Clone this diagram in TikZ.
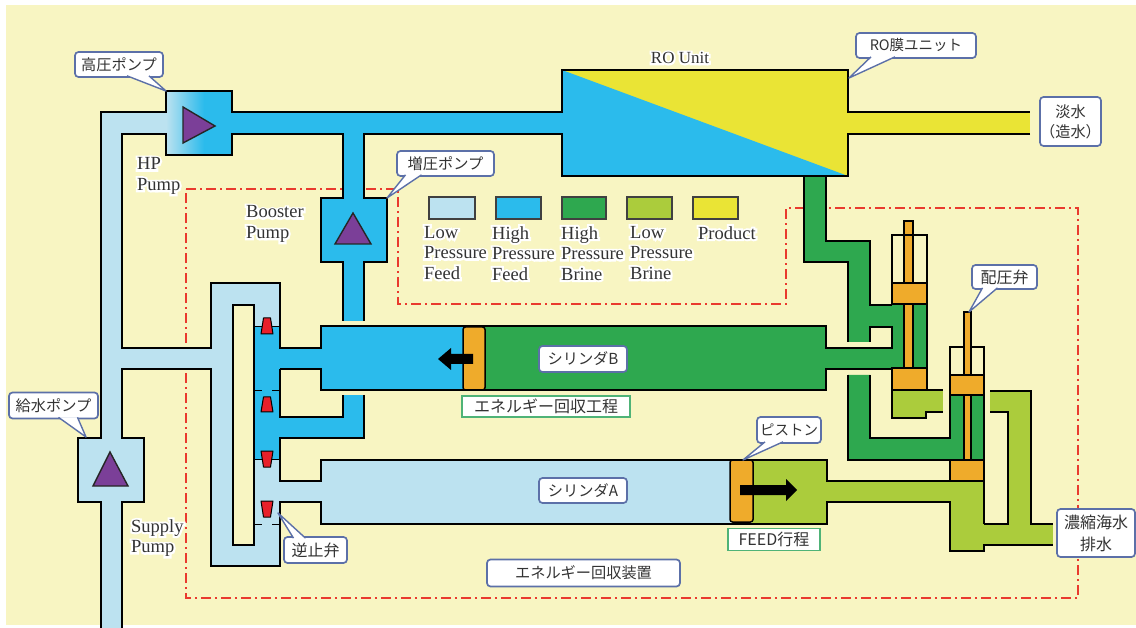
\documentclass[tikz,border=0pt]{standalone}
\usepackage{fontspec}
\setmainfont{Liberation Serif}
\newfontfamily\jpfont{Noto Sans CJK JP}
\newfontfamily\haloface[FakeBold=22]{Liberation Serif}
\newcommand{\hl}[1]{\leavevmode\rlap{\textcolor{white}{\haloface #1}}#1}
\definecolor{bgc}{HTML}{F8F5C2}
\definecolor{lowfeed}{HTML}{BCE2F0}
\definecolor{highfeed}{HTML}{2BBBEC}
\definecolor{highbrine}{HTML}{2EA84F}
\definecolor{lowbrine}{HTML}{ABCC3C}
\definecolor{product}{HTML}{EAE435}
\definecolor{spool}{HTML}{EFAB2B}
\definecolor{valvered}{HTML}{E8202A}
\definecolor{pumpv}{HTML}{7B3F98}
\definecolor{dashred}{HTML}{E93A2E}
\definecolor{calloutc}{HTML}{5C70A8}
\definecolor{stepc}{HTML}{4FB377}
\definecolor{tc}{HTML}{333333}
\tikzset{
  wall/.style={draw=black,line width=1.9pt,line join=miter},
  thinwall/.style={draw=black,line width=0.9pt},
  pumptri/.style={fill=pumpv,draw=black!85,line width=1.4pt,line join=miter},
  swatch/.style={draw=black!75,line width=1.4pt},
  spoolbox/.style={fill=spool,draw=black,line width=2pt},
  rodbox/.style={fill=spool,draw=black,line width=1.2pt},
  pistonbox/.style={fill=spool,draw=black,line width=1.5pt,rounded corners=2.5pt},
  checkv/.style={fill=valvered,draw=black,line width=1pt,line join=round},
  boundary/.style={draw=dashred,line width=1.7pt,dash pattern=on 10pt off 4pt on 2pt off 4pt},
  labeltext/.style={font=\fontsize{18.5}{20.5}\selectfont,text=tc,align=left,anchor=west,inner sep=0pt},
  cbox/.style={rectangle,rounded corners=3.5pt,draw=calloutc,line width=1.7pt,fill=white,inner sep=0pt,text=tc,font=\jpfont\fontsize{15.2}{20}\selectfont,align=center},
  bigtext/.style={font=\jpfont\fontsize{16}{22}\selectfont},
  gbox/.style={rectangle,draw=stepc,line width=1.7pt,fill=white,inner sep=0pt,text=tc,font=\jpfont\fontsize{16}{20}\selectfont},
  cptr/.style={draw=calloutc,line width=1.4pt,fill=white,line join=round},
  blockarrow/.style={fill=black,draw=none}
}
\begin{document}
\begin{tikzpicture}[x=1pt,y=-1pt]
\useasboundingbox (0,0) rectangle (1136,628);
\fill[white] (0,0) rectangle (1136,628);
\fill[bgc] (6,5) rectangle (1136,625);
% boundary
\draw[boundary] (186,189) -- (398,189) -- (398,304) -- (786,304) -- (786,208) -- (1078,208) -- (1078,598) -- (186,598) -- cycle;

% low pressure feed
\fill[lowfeed] (101,112) rectangle (122,628);
\fill[lowfeed] (101,112) rectangle (170,134);
\fill[lowfeed] (78,438) rectangle (144,502);
\fill[lowfeed] (122,348) rectangle (211,369);
\fill[lowfeed] (211,283) rectangle (280,566);
\fill[lowfeed] (280,481) rectangle (321,502);
\fill[lowfeed] (321,460) rectangle (731,524);
\fill[bgc] (233,305) rectangle (254,545);
% high pressure feed
\shade[left color=lowfeed,right color=highfeed] (166,91) rectangle (204,155);
\fill[highfeed] (204,91) rectangle (232,155);
\fill[highfeed] (232,112) rectangle (563,134);
\fill[highfeed] (343,134) rectangle (364,198);
\fill[highfeed] (321,198) rectangle (387,262);
\fill[highfeed] (343,262) rectangle (364,321);
\fill[highfeed] (321,326) rectangle (464,390);
\fill[highfeed] (254,326) rectangle (280,459);
\fill[highfeed] (280,348) rectangle (321,369);
\fill[highfeed] (280,417) rectangle (364,438);
\fill[highfeed] (343,395) rectangle (364,417);
% RO
\fill[product] (562,70) rectangle (848,176);
\fill[highfeed] (562,70) -- (848,176) -- (562,176) -- cycle;
\fill[product] (848,112) rectangle (1030,134);
% high pressure brine
\fill[highbrine] (484,326) rectangle (826,390);
\fill[highbrine] (804,176) -- (826,176) -- (826,241) -- (870,241) -- (870,305) -- (892,305) -- (892,327) -- (870,327) -- (870,342) -- (848,342) -- (848,262) -- (804,262) -- cycle;
\fill[highbrine] (892,304) rectangle (927,368);
\fill[highbrine] (826,348) rectangle (892,369);
\fill[highbrine] (848,375) -- (870,375) -- (870,438) -- (950,438) -- (950,395) -- (984,395) -- (984,460) -- (848,460) -- cycle;
% low pressure brine
\fill[lowbrine] (752,460) rectangle (827,524);
\fill[lowbrine] (827,481) rectangle (950,502);
\fill[lowbrine] (950,481) rectangle (984,551);
\fill[lowbrine] (984,524) rectangle (1053,545);
\fill[lowbrine] (990,391) rectangle (1031,412);
\fill[lowbrine] (1008,391) rectangle (1031,524);
\fill[lowbrine] (892,390) rectangle (926,418);
\fill[lowbrine] (926,391) rectangle (943,412);

% walls
\draw[wall] (101,628) -- (101,502) -- (78,502) -- (78,438) -- (101,438) -- (101,112) -- (166,112) -- (166,91) -- (232,91) -- (232,112) -- (562,112) -- (562,70) -- (848,70) -- (848,112) -- (1030,112);
\draw[wall] (1030,134) -- (848,134) -- (848,176) -- (562,176) -- (562,134) -- (364,134) -- (364,198) -- (387,198) -- (387,262) -- (364,262) -- (364,321);
\draw[wall] (343,321) -- (343,262) -- (321,262) -- (321,198) -- (343,198) -- (343,134) -- (232,134) -- (232,155) -- (166,155) -- (166,134) -- (122,134) -- (122,348) -- (211,348) -- (211,283) -- (280,283) -- (280,348) -- (321,348) -- (321,326) -- (826,326) -- (826,348) -- (892,348) -- (892,327) -- (870,327) -- (870,342);
\draw[wall] (122,628) -- (122,502) -- (144,502) -- (144,438) -- (122,438) -- (122,369) -- (211,369) -- (211,566) -- (280,566) -- (280,502) -- (321,502) -- (321,524) -- (827,524) -- (827,502) -- (950,502) -- (950,551) -- (984,551) -- (984,545) -- (1053,545);
\draw[wall] (280,369) -- (321,369) -- (321,390) -- (826,390) -- (826,369) -- (892,369) -- (892,418) -- (926,418) -- (926,412) -- (943,412);
\draw[wall] (280,369) -- (280,417) -- (343,417) -- (343,395);
\draw[wall] (364,395) -- (364,438) -- (280,438) -- (280,481) -- (321,481) -- (321,460) -- (827,460) -- (827,481) -- (950,481);
\draw[wall] (233,305) rectangle (254,545);
\draw[wall] (804,176) -- (804,262) -- (848,262) -- (848,342);
\draw[wall] (826,176) -- (826,241) -- (870,241) -- (870,305) -- (892,305);
\draw[wall] (848,375) -- (848,460) -- (950,460);
\draw[wall] (870,375) -- (870,438) -- (950,438) -- (950,395);
\draw[wall] (990,391) -- (1031,391) -- (1031,524) -- (1053,524);
\draw[wall] (990,412) -- (1008,412) -- (1008,524) -- (984,524);
\draw[wall] (927,390) -- (943,390);
% check-valve seats
\draw[thinwall] (254,326) -- (280,326);
\draw[thinwall] (254,459) -- (280,459);
\draw[thinwall] (254,390) -- (262,390) (272,390) -- (280,390);
\draw[thinwall] (254,524) -- (262,524) (272,524) -- (280,524);
\draw[checkv] (263.5,318) -- (270.5,318) -- (273,334) -- (261,334) -- cycle;
\draw[checkv] (263.5,397) -- (270.5,397) -- (273,412) -- (261,412) -- cycle;
\draw[checkv] (261,451) -- (273,451) -- (270.5,467) -- (263.5,467) -- cycle;
\draw[checkv] (261,501) -- (273,501) -- (270.5,517) -- (263.5,517) -- cycle;
% distribution valves
\draw[rodbox] (904,221) rectangle (913,283);
\draw[wall] (892,283) -- (892,235) -- (927,235) -- (927,390);
\draw[rodbox] (904,304) rectangle (913,368);
\draw[spoolbox] (892,283) rectangle (927,304);
\draw[spoolbox] (892,368) rectangle (927,390);
\draw[wall] (950,375) -- (950,347) -- (984,347) -- (984,524);
\draw[rodbox] (964,312) rectangle (971,375);
\draw[rodbox] (964,395) rectangle (971,460);
\draw[spoolbox] (950,375) rectangle (984,395);
\draw[spoolbox] (950,460) rectangle (984,481);
% pistons and arrows
\draw[pistonbox] (463,327) rectangle (485,390);
\fill[blockarrow] (473,354) -- (451,354) -- (451,348) -- (438,359) -- (451,370) -- (451,364) -- (473,364) -- cycle;
\draw[pistonbox] (730,460) rectangle (753,522);
\fill[blockarrow] (740,485) -- (786,485) -- (786,479) -- (797,490) -- (786,501) -- (786,495) -- (740,495) -- cycle;
% pumps
\draw[pumptri] (183,107) -- (215,126) -- (183,143) -- cycle;
\draw[pumptri] (353,213) -- (371,244) -- (335,244) -- cycle;
\draw[pumptri] (110,452) -- (128,486) -- (93,486) -- cycle;
% legend
\draw[swatch,fill=lowfeed] (429,197) rectangle (475,219);
\draw[swatch,fill=highfeed] (496,197) rectangle (541,219);
\draw[swatch,fill=highbrine] (562,197) rectangle (606,219);
\draw[swatch,fill=lowbrine] (627,197) rectangle (672,219);
\draw[swatch,fill=product] (693,197) rectangle (738,219);
\node[labeltext,anchor=north west] (lg1) at (424,226) {\hl{Low}\\\hl{Pressure}\\\hl{Feed}};
\node[labeltext,anchor=north west] (lg2) at (492,226) {\hl{High}\\\hl{Pressure}\\\hl{Feed}};
\node[labeltext,anchor=north west] (lg3) at (561,226) {\hl{High}\\\hl{Pressure}\\\hl{Brine}};
\node[labeltext,anchor=north west] (lg4) at (630,226) {\hl{Low}\\\hl{Pressure}\\\hl{Brine}};
\node[labeltext,anchor=north west] (lg5) at (698,226) {\hl{Product}};
% plain labels
\node[labeltext,anchor=center,font=\fontsize{17}{20}\selectfont] (rounit) at (680,58) {\hl{RO Unit}};
\node[labeltext] (hppump) at (137,176) {\hl{HP}\\\hl{Pump}};
\node[labeltext] (bstpump) at (246,224) {\hl{Booster}\\\hl{Pump}};
\node[labeltext] (suppump) at (131,538) {\hl{Supply}\\\hl{Pump}};
% boxes
\node[cbox,minimum width=61,minimum height=49] (product) at (1070.5,121.5) {淡水\\（造水）};
\node[cbox,bigtext,minimum width=78,minimum height=48] (brineout) at (1096,533) {濃縮海水\\排水};
\node[cbox,minimum width=88,minimum height=26] (cylb) at (583,359) {シリンダB};
\node[cbox,minimum width=88,minimum height=25] (cyla) at (583,490.5) {シリンダA};
\node[cbox,minimum width=193,minimum height=27] (erd) at (583.5,573) {エネルギー回収装置};
\node[gbox,minimum width=168,minimum height=21] (recov) at (546,406.5) {エネルギー回収工程};
\node[gbox,minimum width=92,minimum height=22] (feedstep) at (774,539.5) {FEED行程};
% callouts
\node[cbox,minimum width=88,minimum height=25] (hp) at (119,64.5) {高圧ポンプ};
\coordinate (tiphp) at (166,91);
\draw[cptr] ([xshift=8pt,yshift=2pt]hp.south) -- (tiphp) -- ([xshift=30pt,yshift=2pt]hp.south);
\node[cbox,minimum width=97,minimum height=25] (bst) at (445.5,163.5) {増圧ポンプ};
\coordinate (tipbst) at (387,198);
\draw[cptr] ([xshift=-40pt,yshift=2pt]bst.south) -- (tipbst) -- ([xshift=-24pt,yshift=2pt]bst.south);
\node[cbox,minimum width=89,minimum height=26] (sup) at (53.5,405.5) {給水ポンプ};
\coordinate (tipsup) at (86,437);
\draw[cptr] ([xshift=5pt,yshift=2pt]sup.south) -- (tipsup) -- ([xshift=24pt,yshift=2pt]sup.south);
\node[cbox,bigtext,minimum width=63,minimum height=26] (chk) at (315.5,550) {逆止弁};
\coordinate (tipchk) at (278,513);
\draw[cptr] ([xshift=-22pt,yshift=-2pt]chk.north) -- (tipchk) -- ([xshift=-10pt,yshift=-2pt]chk.north);
\node[cbox,bigtext,minimum width=65,minimum height=24] (dist) at (1004.5,277) {配圧弁};
\coordinate (tipdist) at (969,312);
\draw[cptr] ([xshift=-22pt,yshift=2pt]dist.south) -- (tipdist) -- ([xshift=-7pt,yshift=2pt]dist.south);
\node[cbox,font=\jpfont\fontsize{14.5}{20}\selectfont,minimum width=64,minimum height=26] (pist) at (789,430) {ピストン};
\coordinate (tippist) at (743,460);
\draw[cptr] ([xshift=-24pt,yshift=2pt]pist.south) -- (tippist) -- ([xshift=-6pt,yshift=2pt]pist.south);
\node[cbox,font=\jpfont\fontsize{14.5}{20}\selectfont,minimum width=120,minimum height=25] (rom) at (916,45.5) {RO膜ユニット};
\coordinate (tiprom) at (849,78);
\draw[cptr] ([xshift=-45pt,yshift=2pt]rom.south) -- (tiprom) -- ([xshift=-21pt,yshift=2pt]rom.south);
\end{tikzpicture}
\end{document}
